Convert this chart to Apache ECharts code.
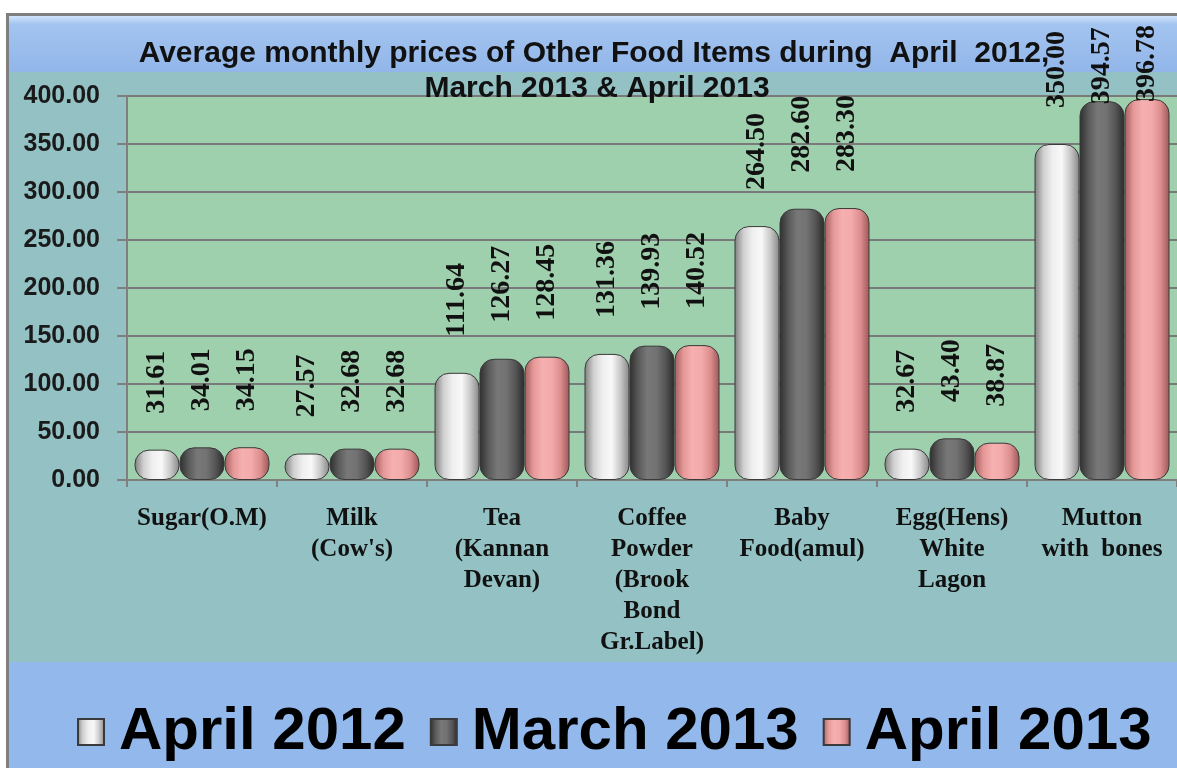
<!DOCTYPE html>
<html>
<head>
<meta charset="utf-8">
<title>Average monthly prices of Other Food Items</title>
<script src="https://cdn.jsdelivr.net/npm/echarts@6/dist/echarts.min.js"></script>
<style>
  html, body { margin: 0; padding: 0; background: #fff; }
  #chart { width: 1177px; height: 768px; }
</style>
</head>
<body>
<div id="chart"></div>
<script>
// categories as printed under the axis (Excel wrapped them)
const items = [
  'Sugar(O.M)',
  'Milk\n(Cow\'s)',
  'Tea\n(Kannan\nDevan)',
  'Coffee\nPowder\n(Brook\nBond\nGr.Label)',
  'Baby\nFood(amul)',
  'Egg(Hens)\nWhite\nLagon',
  'Mutton\nwith  bones'
]
const april2012 = [31.61, 27.57, 111.64, 131.36, 264.50, 32.67, 350.00]
const march2013 = [34.01, 32.68, 126.27, 139.93, 282.60, 43.40, 394.57]
const april2013 = [34.15, 32.68, 128.45, 140.52, 283.30, 38.87, 396.78]
const yTicks = [0, 50, 100, 150, 200, 250, 300, 350, 400]

// cylinder look: light in the middle, dark at the sides
const cyl = (stops) => new echarts.graphic.LinearGradient(0, 0, 1, 0,
  stops.map((c, i) => ({ offset: i / (stops.length - 1), color: c })))

const white = cyl(['#7d7d7d', '#cfcfcf', '#efefef', '#f8f8f8', '#c8c8c8', '#858585'])
const grey = cyl(['#2e2e2e', '#5a5a5a', '#787878', '#727272', '#555555', '#2a2a2a'])
const pink = cyl(['#a35c5c', '#e59898', '#f6b0b0', '#f3aaaa', '#dc8e8e', '#9c5656'])

const labelCfg = {
  show: true,
  position: 'top',
  distance: 36,
  rotate: 90,
  align: 'left',
  verticalAlign: 'middle',
  fontFamily: 'Liberation Serif',
  fontWeight: 'bold',
  fontSize: 28,
  color: '#111',
  formatter: (p) => p.value.toFixed(2)
}

// Excel pushed the labels of the tallest bars back inside the chart
const withLabels = (data) => data.map(v => v > 380 ? { value: v, label: { distance: -3 } } : v)

const mkSeries = (name, data, color) => ({
  name: name,
  type: 'bar',
  data: withLabels(data),
  barGap: '0%',
  barCategoryGap: '10%',
  itemStyle: {
    color: color,
    borderColor: '#3a3a3a',
    borderWidth: 1,
    borderRadius: 14
  },
  label: labelCfg
})

const chart = echarts.init(document.getElementById('chart'))

chart.setOption({
  animation: false,
  graphic: [
    // outer frame + bands
    { type: 'rect', z: -10, shape: { x: 6, y: 13, width: 1180, height: 760 }, style: { fill: '#7f7f7f' } },
    { type: 'rect', z: -9, shape: { x: 9, y: 16, width: 1180, height: 760 }, style: { fill: '#93c1c4' } },
    {
      type: 'rect', z: -8, shape: { x: 9, y: 16, width: 1180, height: 56 },
      style: {
        fill: new echarts.graphic.LinearGradient(0, 0, 0, 1, [
          { offset: 0, color: '#cfe4fb' },
          { offset: 0.15, color: '#a3c4f0' },
          { offset: 1, color: '#92b6e9' }
        ])
      }
    },
    { type: 'rect', z: -8, shape: { x: 9, y: 662, width: 1180, height: 110 }, style: { fill: '#93b8eb' } },
    {
      type: 'text', z: 1, style: {
        x: 594, y: 54, text: 'Average monthly prices of Other Food Items during  April  2012,',
        textAlign: 'center', textVerticalAlign: 'middle',
        font: 'bold 30px "Liberation Sans"', fill: '#111'
      }
    },
    {
      type: 'text', z: 1, style: {
        x: 597, y: 89, text: 'March 2013 & April 2013',
        textAlign: 'center', textVerticalAlign: 'middle',
        font: 'bold 30px "Liberation Sans"', fill: '#111'
      }
    }
  ],
  legend: {
    left: 72,
    top: 697,
    width: 1100,
    itemWidth: 26,
    itemHeight: 26,
    itemGap: 24,
    icon: 'rect',
    textStyle: {
      fontFamily: 'Liberation Sans',
      fontWeight: 'bold',
      fontSize: 60,
      color: '#000',
      padding: [0, 0, 0, 10]
    }
  },
  grid: {
    left: 127,
    right: 0,
    top: 96,
    bottom: 288,
    show: true,
    backgroundColor: '#9fd0ae',
    borderWidth: 0,
    outerBoundsMode: 'none'
  },
  xAxis: {
    type: 'category',
    data: items,
    axisLine: { lineStyle: { color: '#7f7f7f', width: 2 } },
    axisTick: { show: true, length: 7, lineStyle: { color: '#7f7f7f', width: 2 } },
    axisLabel: {
      interval: 0,
      margin: 23,
      fontFamily: 'Liberation Serif',
      fontWeight: 'bold',
      fontSize: 25,
      lineHeight: 31,
      color: '#111'
    }
  },
  yAxis: {
    type: 'value',
    min: yTicks[0],
    max: yTicks[yTicks.length - 1],
    interval: 50,
    axisLine: { show: true, lineStyle: { color: '#7f7f7f', width: 2 } },
    axisTick: { show: true, length: 10, lineStyle: { color: '#7f7f7f', width: 2 } },
    splitLine: { lineStyle: { color: '#7a7a7a', width: 2 } },
    axisLabel: {
      margin: 27,
      fontFamily: 'Liberation Sans',
      fontWeight: 'bold',
      fontSize: 25,
      color: '#1a1a1a',
      formatter: (v) => v.toFixed(2)
    }
  },
  series: [
    mkSeries('April 2012', april2012, white),
    mkSeries('March 2013', march2013, grey),
    mkSeries('April 2013', april2013, pink)
  ]
})
</script>
</body>
</html>
